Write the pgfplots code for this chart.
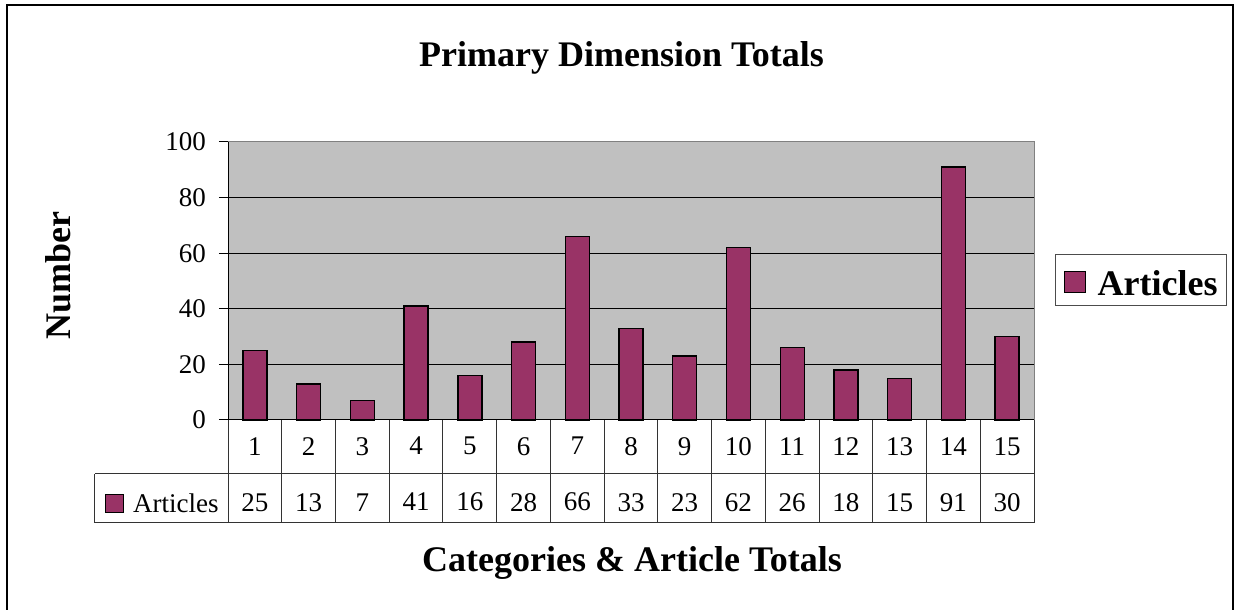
\documentclass[border=0pt]{standalone}
\usepackage{fontspec}
\setmainfont{Liberation Serif}
\usepackage{pgfplots}
\usepackage{pgfplotstable}
\pgfplotsset{compat=1.18}
\definecolor{barcol}{HTML}{993366}
\definecolor{plotbg}{HTML}{C0C0C0}

\pgfplotstableread{
cat articles
1 25
2 13
3 7
4 41
5 16
6 28
7 66
8 33
9 23
10 62
11 26
12 18
13 15
14 91
15 30
}\articles

\begin{document}
\begin{tikzpicture}[x=1pt,y=1pt]
\useasboundingbox (0,0) rectangle (1235,610);
% outer chart frame
\draw[line width=1.5pt] (7,-2) -- (7,605) -- (1233,605) -- (1233,-2);

\begin{axis}[
    at={(228pt,190pt)}, anchor=south west,
    width=806pt, height=278pt, scale only axis,
    xmin=0.5, xmax=15.5, ymin=0, ymax=100,
    ytick={0,20,...,100},
    xtick={1,...,15},
    xticklabels={{1\\25},{2\\13},{3\\7},{4\\41},{5\\16},{6\\28},{7\\66},{8\\33},{9\\23},{10\\62},{11\\26},{12\\18},{13\\15},{14\\91},{15\\30}},
    xticklabel style={align=center, font=\fontsize{27}{56}\selectfont, anchor=north, inner sep=0pt, yshift=-8pt},
    yticklabel style={font=\fontsize{27}{32}\selectfont, anchor=east, inner sep=0pt, xshift=-13pt},
    /pgf/number format/assume math mode=true,
    xtick style={draw=none},
    ytick style={black, line width=1pt},
    tick align=outside, major tick length=9pt,
    ytick pos=left,
    axis background/.style={fill=plotbg},
    axis line style={black!50, line width=1pt},
    ymajorgrids, major grid style={black, line width=1pt},
    clip=false,
    legend style={at={(1.0261,0.5036)}, anchor=west, draw=black!70, line width=1.2pt,
        fill=white, font=\bfseries\fontsize{36}{40}\selectfont,
        inner xsep=9pt, inner ysep=8pt, nodes={inner sep=0pt}},
    legend image code/.code={
        \path[draw=none, fill=none] (0pt,0pt) rectangle (33pt,21pt);
        \draw[overlay, fill=barcol, draw=black, line width=1.2pt] (0pt,-9pt) rectangle (21pt,12pt);},
]
\addplot[ybar, bar width=24pt, fill=barcol, draw=black, line width=1.4pt] table[x=cat, y=articles] {\articles};
\addlegendentry{Articles}

% left and bottom axis lines in black
\draw[black, line width=1pt] (rel axis cs:0,1) -- (rel axis cs:0,0) -- (rel axis cs:1,0);

% data table grid
\pgfplotsinvokeforeach{0.5,1.5,...,15.5}{
    \draw[black!80, line width=1pt] (axis cs:#1,0) -- ++(0pt,-103pt);
}
\draw[black!80, line width=1pt] ([xshift=-133pt,yshift=-54pt]rel axis cs:0,0) -- ([yshift=-54pt]rel axis cs:1,0);
\draw[black!80, line width=1pt] ([xshift=-133pt,yshift=-103pt]rel axis cs:0,0) -- ([yshift=-103pt]rel axis cs:1,0);
\draw[black!80, line width=1pt] ([xshift=-133pt,yshift=-54pt]rel axis cs:0,0) -- ([xshift=-133pt,yshift=-103pt]rel axis cs:0,0);
\end{axis}

% series key in the data table
\draw[fill=barcol, line width=1pt] (105,97) rectangle (123,115);
\node[anchor=base west, inner sep=0pt, font=\fontsize{27}{32}\selectfont] at (133,97) {Articles};

% titles
\node[anchor=base, inner sep=0pt, font=\bfseries\fontsize{36}{40}\selectfont] at (621.5,543) {Primary Dimension Totals};
\node[anchor=base, inner sep=0pt, font=\bfseries\fontsize{36}{40}\selectfont] at (632,38) {Categories \& Article Totals};
\node[anchor=base, rotate=90, inner sep=0pt, font=\bfseries\fontsize{36}{40}\selectfont] at (70,334) {Number};
\end{tikzpicture}
\end{document}
